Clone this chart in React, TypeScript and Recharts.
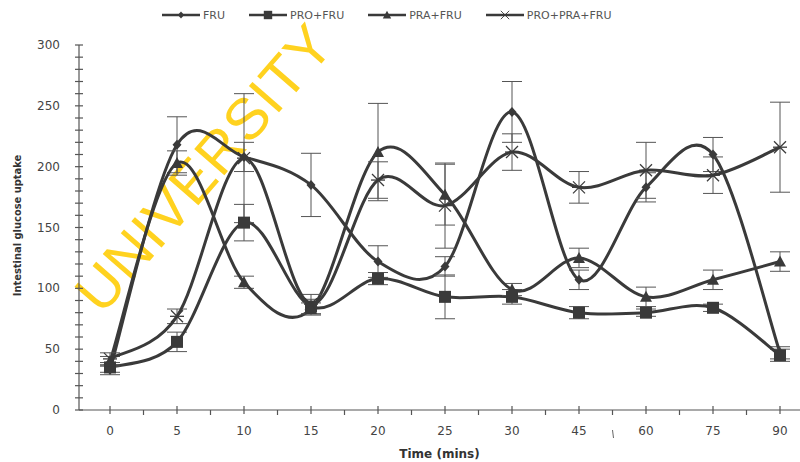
import React from 'react'
import { LineChart, Line, XAxis, YAxis, ErrorBar } from 'recharts'

const times = ['0', '5', '10', '15', '20', '25', '30', '45', '60', '75', '90']

const fru = [33, 218, 208, 185, 122, 118, 245, 107, 183, 210, 47]
const fruErr = [4, 23, 12, 26, 13, 8, 25, 8, 12, 14, 5]

const proFru = [35, 56, 154, 85, 108, 93, 93, 80, 80, 84, 45]
const proFruErr = [4, 8, 15, 6, 5, 18, 6, 5, 3, 3, 5]

const praFru = [40, 203, 105, 83, 212, 177, 99, 125, 93, 107, 122]
const praFruErr = [4, 10, 5, 5, 40, 25, 5, 8, 8, 8, 8]

const proPraFru = [42, 77, 207, 87, 189, 168, 212, 183, 197, 193, 216]
const proPraFruErr = [5, 6, 53, 8, 15, 35, 15, 13, 23, 15, 37]

const yTicks = Array.from({ length: 31 }, (_, i) => i * 10)

const INK = '#3a3a3a'
const FONT = "'DejaVu Sans', 'Liberation Sans', Arial, sans-serif"

type MarkerKind = 'diamond' | 'square' | 'triangle' | 'star'

const series: { key: string; name: string; marker: MarkerKind; values: number[]; err: number[] }[] = [
  { key: 'fru', name: 'FRU', marker: 'diamond', values: fru, err: fruErr },
  { key: 'proFru', name: 'PRO+FRU', marker: 'square', values: proFru, err: proFruErr },
  { key: 'praFru', name: 'PRA+FRU', marker: 'triangle', values: praFru, err: praFruErr },
  { key: 'proPraFru', name: 'PRO+PRA+FRU', marker: 'star', values: proPraFru, err: proPraFruErr },
]

const data = times.map((t, i) => {
  const row: Record<string, any> = { time: t }
  series.forEach((s) => {
    row[s.key] = s.values[i]
    row[s.key + 'Err'] = s.err[i]
  })
  return row
})

// Catmull-Rom style smoothing, close to the spreadsheet "smoothed line"
function smoothCurve(context: any) {
  let pts: [number, number][] = []
  return {
    areaStart() {},
    areaEnd() {},
    lineStart() {
      pts = []
    },
    lineEnd() {
      if (!pts.length) return
      context.moveTo(pts[0][0], pts[0][1])
      for (let i = 0; i < pts.length - 1; i++) {
        const p0 = pts[i - 1] || pts[i]
        const p1 = pts[i]
        const p2 = pts[i + 1]
        const p3 = pts[i + 2] || p2
        context.bezierCurveTo(
          p1[0] + (p2[0] - p0[0]) / 6,
          p1[1] + (p2[1] - p0[1]) / 6,
          p2[0] - (p3[0] - p1[0]) / 6,
          p2[1] - (p3[1] - p1[1]) / 6,
          p2[0],
          p2[1]
        )
      }
    },
    point(x: number, y: number) {
      pts.push([+x, +y])
    },
  }
}

function Marker({ kind, cx, cy }: { kind: MarkerKind; cx: number; cy: number }) {
  if (cx == null || cy == null) return null
  if (kind === 'diamond')
    return <path d={`M${cx},${cy - 5}L${cx + 4.5},${cy}L${cx},${cy + 5}L${cx - 4.5},${cy}Z`} fill={INK} />
  if (kind === 'square') return <rect x={cx - 6} y={cy - 6} width={12} height={12} fill={INK} />
  if (kind === 'triangle')
    return <path d={`M${cx},${cy - 6}L${cx + 6},${cy + 5}L${cx - 6},${cy + 5}Z`} fill={INK} />
  return (
    <g stroke={INK} strokeWidth={1.3}>
      <line x1={cx - 6} y1={cy - 6} x2={cx + 6} y2={cy + 6} />
      <line x1={cx - 6} y1={cy + 6} x2={cx + 6} y2={cy - 6} />
      <line x1={cx - 7} y1={cy} x2={cx + 7} y2={cy} />
    </g>
  )
}

const HALF_STEP = 33.5

function XTick(props: any) {
  const { x, y, payload } = props
  return (
    <g>
      <line x1={x} y1={y - 4} x2={x} y2={y + 4} stroke="#555" strokeWidth={1.2} />
      {payload.value !== '90' && (
        <line x1={x + HALF_STEP} y1={y} x2={x + HALF_STEP} y2={y + 5} stroke="#555" strokeWidth={1.2} />
      )}
      {payload.value === '60' && (
        <line x1={x - HALF_STEP} y1={y + 20} x2={x - HALF_STEP + 1} y2={y + 28} stroke="#666" strokeWidth={1} />
      )}
      <text x={x} y={y + 25} textAnchor="middle" fontSize={12} fill="#444" fontFamily={FONT}>
        {payload.value}
      </text>
    </g>
  )
}

function YTick(props: any) {
  const { x, y, payload } = props
  const major = payload.value % 50 === 0
  return (
    <g>
      <line x1={x - 4} y1={y} x2={x + 4} y2={y} stroke="#555" strokeWidth={1.2} />
      {major && (
        <text x={x - 19} y={y + 4} textAnchor="end" fontSize={12} fill="#444" fontFamily={FONT}>
          {payload.value}
        </text>
      )}
    </g>
  )
}

function LegendItem({ name, marker }: { name: string; marker: MarkerKind }) {
  return (
    <div style={{ display: 'flex', alignItems: 'center', marginRight: 24 }}>
      <svg width={38} height={14}>
        <line x1={0} y1={7} x2={38} y2={7} stroke={INK} strokeWidth={2.5} />
        <g transform="translate(19,7) scale(0.7) translate(-19,-7)">
          <Marker kind={marker} cx={19} cy={7} />
        </g>
      </svg>
      <span style={{ fontSize: 11, color: '#555', marginLeft: 3, fontFamily: FONT }}>{name}</span>
    </div>
  )
}

export default function App() {
  return (
    <div style={{ position: 'absolute', left: 0, top: 0, width: 800, height: 462, background: '#fff', overflow: 'hidden' }}>
      <div
        style={{
          position: 'absolute',
          left: 204,
          top: 168,
          transform: 'translate(-50%, -50%) rotate(-49deg)',
          color: '#FFD21F',
          fontSize: 58,
          lineHeight: 1,
          fontFamily: "'Liberation Sans', Arial, sans-serif",
          whiteSpace: 'nowrap',
          letterSpacing: 1,
        }}
      >
        UNIVERSITY
      </div>
      <div style={{ position: 'absolute', left: 0, top: 0 }}>
        <LineChart width={800} height={462} data={data} margin={{ top: 45, right: 0, bottom: 0, left: 0 }}>
          <XAxis
            dataKey="time"
            scale="point"
            padding={{ left: 31, right: 20 }}
            height={52}
            tickSize={0}
            tickMargin={0}
            tickLine={false}
            tick={<XTick />}
            interval={0}
            axisLine={{ stroke: '#555', strokeWidth: 1.2 }}
            label={{ value: 'Time (mins)', position: 'insideBottom', offset: 4, fontSize: 12, fontWeight: 'bold', fill: '#333', fontFamily: FONT }}
          />
          <YAxis
            domain={[0, 300]}
            ticks={yTicks}
            interval={0}
            width={79}
            tickSize={0}
            tickMargin={0}
            tickLine={false}
            tick={<YTick />}
            axisLine={{ stroke: '#555', strokeWidth: 1.2 }}
            label={{
              value: 'Intestinal glucose uptake',
              angle: -90,
              position: 'insideLeft',
              offset: 17,
              dy: -2,
              fontSize: 11,
              fontWeight: 'bold',
              fill: '#333',
              fontFamily: "'DejaVu Sans Condensed', 'DejaVu Sans', sans-serif",
              style: { textAnchor: 'middle' },
            }}
          />
          {series.map((s) => (
            <Line
              key={s.key}
              dataKey={s.key}
              name={s.name}
              type={smoothCurve as any}
              stroke={INK}
              strokeWidth={3}
              isAnimationActive={false}
              dot={(p: any) => <Marker key={`${s.key}-${p.index}`} kind={s.marker} cx={p.cx} cy={p.cy} />}
              activeDot={false}
            >
              <ErrorBar dataKey={s.key + 'Err'} direction="y" width={10} stroke="#555" strokeWidth={1} />
            </Line>
          ))}
        </LineChart>
      </div>
      <div style={{ position: 'absolute', left: 162, top: 8, display: 'flex' }}>
        {series.map((s) => (
          <LegendItem key={s.key} name={s.name} marker={s.marker} />
        ))}
      </div>
    </div>
  )
}
